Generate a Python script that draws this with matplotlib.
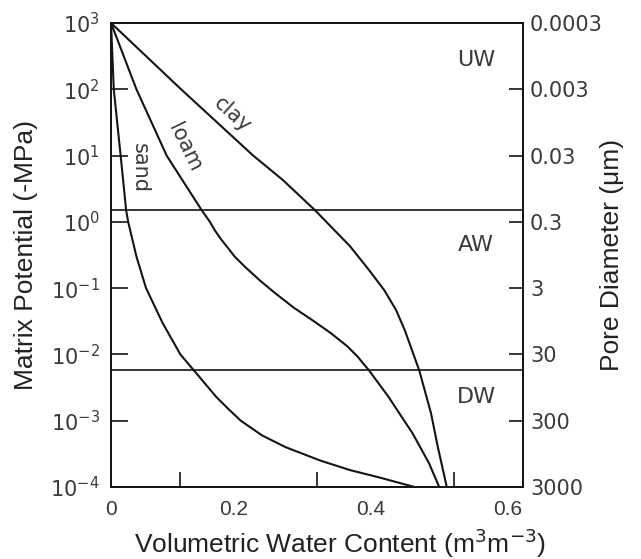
import matplotlib
matplotlib.use("Agg")
import matplotlib.pyplot as plt
from matplotlib.ticker import FixedLocator, FixedFormatter, NullLocator
from matplotlib.transforms import ScaledTranslation

# Water retention curves: matric potential (-MPa) vs volumetric water content
sand_psi = [1000, 100, 10, 1.5, 1, 0.3, 0.1, 0.03, 0.01, 0.0057, 0.0023, 0.0015,
            0.001, 0.0006, 0.0004, 0.00025, 0.00018, 0.00014, 0.0001]
sand_theta = [0.0, 0.004, 0.014, 0.022, 0.025, 0.037, 0.051, 0.075, 0.101, 0.121,
              0.153, 0.171, 0.189, 0.22, 0.254, 0.305, 0.348, 0.39, 0.442]

loam_psi = [1000, 100, 10, 1.5, 1.0, 0.75, 0.55, 0.42, 0.3, 0.21, 0.13, 0.084,
            0.05, 0.033, 0.021, 0.0133, 0.0093, 0.0057, 0.0023, 0.001, 0.00065,
            0.00023, 0.0001]
loam_theta = [0.0, 0.037, 0.081, 0.132, 0.144, 0.151, 0.160, 0.169, 0.180, 0.195,
              0.217, 0.239, 0.267, 0.293, 0.320, 0.344, 0.359, 0.376, 0.404, 0.427,
              0.439, 0.463, 0.478]

clay_psi = [1000, 100, 10, 4.3, 1.5, 0.43, 0.186, 0.093, 0.047, 0.023, 0.0057,
            0.0013, 0.0004, 0.0001]
clay_theta = [0.0, 0.102, 0.207, 0.25, 0.297, 0.348, 0.376, 0.398, 0.415, 0.428,
              0.449, 0.466, 0.476, 0.489]

# Zone boundaries (wilting point and field capacity)
boundary_psi = [1.5, 0.0058]
zone_names = ["UW", "AW", "DW"]
zone_psi = [275, 0.45, 0.0023]

# Axis ticks
psi_ticks = [1e3, 1e2, 1e1, 1e0, 1e-1, 1e-2, 1e-3, 1e-4]
psi_labels = ["$10^{3}$", "$10^{2}$", "$10^{1}$", "$10^{0}$",
              "$10^{-1}$", "$10^{-2}$", "$10^{-3}$", "$10^{-4}$"]
pore_labels = ["0.0003", "0.003", "0.03", "0.3", "3", "30", "300", "3000"]
theta_major = [0.0, 0.2, 0.4, 0.6]
theta_labels = ["0", "0.2", "0.4", "0.6"]
theta_minor = [0.1, 0.2, 0.3, 0.4, 0.5]

INK = "#141414"
TXT = "#3a3a3a"
TICKFONT = "DejaVu Sans"
LABELFONT = "Liberation Sans"

fig = plt.figure(figsize=(6.41, 5.59), dpi=100)
ax = fig.add_axes([0.1732, 0.1288, 0.6427, 0.8301])

for th, ps in [(sand_theta, sand_psi), (loam_theta, loam_psi), (clay_theta, clay_psi)]:
    ax.plot(th, ps, color=INK, lw=1.5, solid_joinstyle="round")

for b in boundary_psi:
    ax.axhline(b, color=INK, lw=1.2)

ax.set_yscale("log")
ax.set_xlim(0, 0.6)
ax.set_ylim(1e-4, 1e3)

for s in ax.spines.values():
    s.set_color(INK)
    s.set_linewidth(1.3)

# y axis (left)
ax.yaxis.set_major_locator(FixedLocator(psi_ticks))
ax.yaxis.set_major_formatter(FixedFormatter(psi_labels))
ax.yaxis.set_minor_locator(NullLocator())
ax.tick_params(axis="y", which="major", direction="in", length=12, width=1.2,
               color=INK, pad=8, labelsize=15, labelcolor=TXT)

# x axis (bottom)
ax.xaxis.set_major_locator(FixedLocator(theta_major))
ax.xaxis.set_major_formatter(FixedFormatter(theta_labels))
ax.xaxis.set_minor_locator(FixedLocator(theta_minor))
ax.tick_params(axis="x", which="major", length=0, pad=9, labelsize=15,
               labelcolor=TXT)
ax.tick_params(axis="x", which="minor", direction="in", length=11, width=1.2,
               color=INK)
shift = ScaledTranslation(-15 / 100, 0, fig.dpi_scale_trans)
for lab in ax.get_xticklabels()[1:]:
    lab.set_transform(lab.get_transform() + shift)
for lab in ax.get_xticklabels():
    lab.set_family(LABELFONT)
for lab in ax.get_yticklabels():
    lab.set_family(TICKFONT)

# right axis: equivalent pore diameter (um) = 0.3 / psi (MPa)
rax = ax.twinx()
rax.set_yscale("log")
rax.set_ylim(ax.get_ylim())
rax.yaxis.set_major_locator(FixedLocator(psi_ticks))
rax.yaxis.set_major_formatter(FixedFormatter(pore_labels))
rax.yaxis.set_minor_locator(NullLocator())
rax.tick_params(axis="y", which="major", direction="in", length=10, width=1.2,
                color=INK, pad=5, labelsize=15, labelcolor=TXT)
for s in rax.spines.values():
    s.set_color(INK)
    s.set_linewidth(1.3)
for lab in rax.get_yticklabels():
    lab.set_family(TICKFONT)
rax.set_ylabel("Pore Diameter (\u03bcm)", fontsize=19, family=LABELFONT,
               color="#222222", rotation=90)
rax.yaxis.set_label_coords(1.187, 0.5)

ax.set_xlabel("Volumetric Water Content (m$^3$m$^{-3}$)", fontsize=19,
              family=LABELFONT, color="#222222")
ax.xaxis.set_label_coords(0.556, -0.086)
ax.set_ylabel("Matrix Potential (-MPa)", fontsize=19, family=LABELFONT,
              color="#222222")
ax.yaxis.set_label_coords(-0.177, 0.5)

# curve names along the lines
ax.text(0.176, 41, "clay", rotation=-42, fontsize=15, color=TXT, family=TICKFONT,
        ha="center", va="center", rotation_mode="anchor")
ax.text(0.108, 13, "loam", rotation=-64, fontsize=15, color=TXT, family=TICKFONT,
        ha="center", va="center", rotation_mode="anchor")
ax.text(0.042, 6.5, "sand", rotation=-90, fontsize=15, color=TXT, family=TICKFONT,
        ha="center", va="center", rotation_mode="anchor")

for name, p in zip(zone_names, zone_psi):
    ax.text(0.532, p, name, fontsize=16, color=TXT, family=TICKFONT,
            ha="center", va="center")

fig.savefig("out.png", dpi=100)
